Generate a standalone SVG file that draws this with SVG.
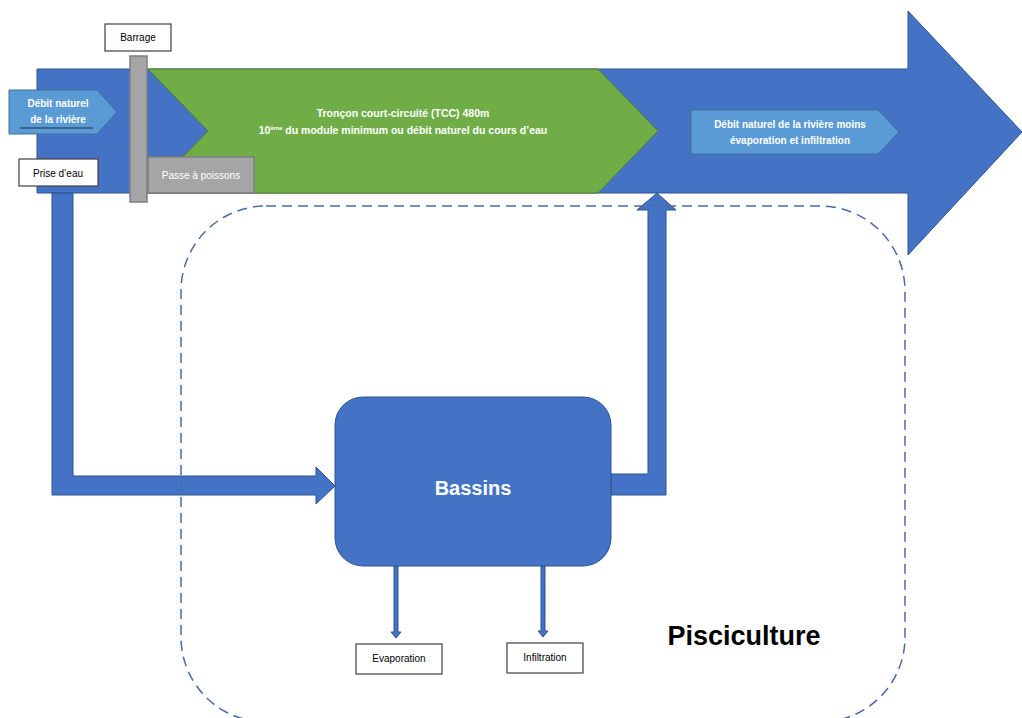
<svg xmlns="http://www.w3.org/2000/svg" width="1022" height="718" viewBox="0 0 1022 718">
<style>
.blue{fill:#4472C4;stroke:#2F528F;stroke-width:1}
.lbl{fill:#5B9BD5;stroke:#41719C;stroke-width:1}
.box{fill:#FFFFFF;stroke:#404040;stroke-width:1.2}
.gray{fill:#A5A5A5;stroke:#7F7F7F;stroke-width:1.5}
.t{font-family:"Liberation Sans",Arial,sans-serif;font-size:10px;text-anchor:middle}
.w{fill:#FFFFFF;font-weight:bold}
.k{fill:#000000}
.tcc{font-size:10.5px}
</style>
<rect width="1022" height="718" fill="#FFFFFF"/>
<g id="river">
<polygon class="blue" points="37,69 908,69 908,11 1022,132 908,255 908,193 37,193"/>
</g>
<g id="tcc">
<polygon points="148,69 598,69 658,131 598,193 148,193 208,131" fill="#70AD47" stroke="#507E32" stroke-width="1"/>
<text class="t w tcc" x="403" y="117">Tronçon court-circuité (TCC) 480m</text>
<text class="t w tcc" x="403" y="134">10<tspan font-size="6" dy="-4">ème</tspan><tspan dy="4"> du module minimum ou débit naturel du cours d’eau</tspan></text>
</g>
<g id="passe">
<rect class="gray" x="148" y="157" width="106" height="36"/>
<text class="t" x="201" y="179" fill="#FFFFFF">Passe à poissons</text>
</g>
<g id="barrage">
<rect class="gray" x="130" y="56" width="17" height="146"/>
<rect class="box" x="105" y="24" width="66" height="27"/>
<text class="t k" x="138" y="41">Barrage</text>
</g>
<g id="debit-in">
<polygon class="lbl" points="9,90 97,90 117,112 97,134 9,134"/>
<text class="t w" x="58" y="107">Débit naturel</text>
<text class="t w" x="58" y="123">de la rivière</text>
<line x1="20" y1="128" x2="93" y2="128" stroke="#1F2A44" stroke-width="1"/>
</g>
<g id="debit-out">
<polygon class="lbl" points="691,110 878,110 899,132 878,154 691,154"/>
<text class="t w" x="790" y="128">Débit naturel de la rivière moins</text>
<text class="t w" x="790" y="144">évaporation et infiltration</text>
</g>
<g id="prise">
<rect class="box" x="19" y="159" width="79" height="27"/>
<text class="t k" x="58" y="177">Prise d’eau</text>
</g>
<g id="connectors">
<polygon class="blue" points="52,193 73,193 73,476 316,476 316,467 335,486 316,504 316,495 52,495"/>
<polygon class="blue" points="611,474 648,474 648,210 637,210 657,193 676,210 666,210 666,495 611,495"/>
<polygon class="blue" points="394,566 398,566 398,632 401,632 396,638 391,632 394,632"/>
<polygon class="blue" points="541,566 545,566 545,631 548,631 543,637 538,631 541,631"/>
</g>
<g id="bassins">
<rect class="blue" x="335" y="397" width="276" height="169" rx="28" ry="28"/>
<text class="t w" x="473" y="495" style="font-size:20px">Bassins</text>
</g>
<g id="evaporation">
<rect class="box" x="356" y="644" width="86" height="30"/>
<text class="t k" x="399" y="662">Evaporation</text>
</g>
<g id="infiltration">
<rect class="box" x="507" y="643" width="76" height="30"/>
<text class="t k" x="545" y="661">Infiltration</text>
</g>
<g id="pisciculture">
<rect x="181" y="206" width="724" height="516" rx="85" ry="85" fill="none" stroke="#4A6AA5" stroke-width="1.5" stroke-dasharray="10 6"/>
<text x="744" y="645" font-family="'Liberation Sans',Arial,sans-serif" font-size="27" font-weight="bold" text-anchor="middle" fill="#000000">Pisciculture</text>
</g>
</svg>
